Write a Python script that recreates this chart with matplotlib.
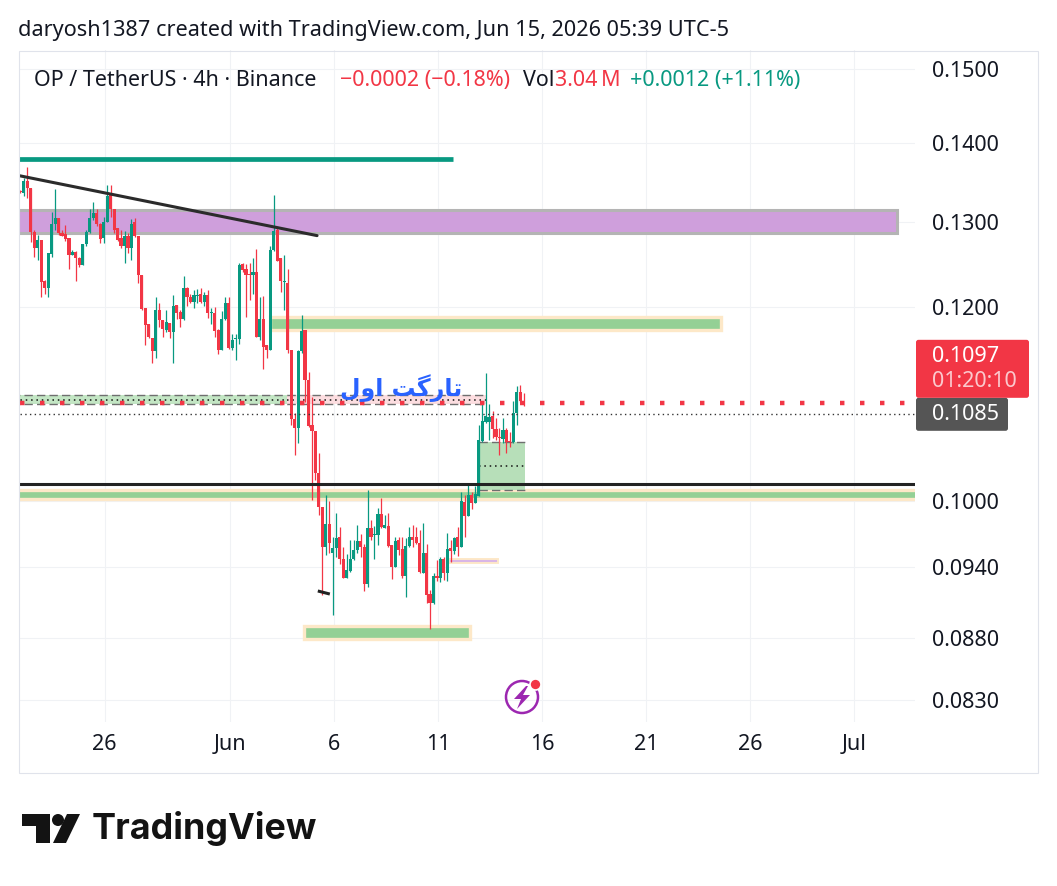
import matplotlib
matplotlib.use("Agg")
import matplotlib.pyplot as plt
import matplotlib.dates as mdates
from matplotlib.patches import Rectangle, Polygon, Circle, FancyBboxPatch
from matplotlib.ticker import NullLocator, NullFormatter
import numpy as np
import pandas as pd

# OP / TetherUS, 4h candles (Binance)
opens = [0.1338, 0.1335, 0.1350, 0.1342, 0.1287, 0.1268, 0.1278, 0.1229, 0.1221, 0.1261,
         0.1297, 0.1304, 0.1286, 0.1285, 0.1280, 0.1260, 0.1263, 0.1256, 0.1248, 0.1273,
         0.1287, 0.1304, 0.1311, 0.1297, 0.1280, 0.1299, 0.1333, 0.1316, 0.1292, 0.1280,
         0.1270, 0.1283, 0.1268, 0.1299, 0.1283, 0.1236, 0.1199, 0.1181, 0.1166, 0.1151,
         0.1196, 0.1185, 0.1174, 0.1182, 0.1172, 0.1202, 0.1194, 0.1186, 0.1221, 0.1211,
         0.1206, 0.1212, 0.1215, 0.1205, 0.1213, 0.1193, 0.1193, 0.1174, 0.1152, 0.1186,
         0.1204, 0.1155, 0.1164, 0.1164, 0.1249, 0.1244, 0.1237, 0.1236, 0.1240, 0.1167,
         0.1186, 0.1158, 0.1152, 0.1266, 0.1290, 0.1256, 0.1228, 0.1227, 0.1152, 0.1080,
         0.1071, 0.1151, 0.1174, 0.1121, 0.1074, 0.1068, 0.1027, 0.0995, 0.0958, 0.0979,
         0.0953, 0.0957, 0.0967, 0.0947, 0.0931, 0.0937, 0.0947, 0.0955, 0.0963, 0.0958,
         0.0925, 0.0975, 0.0969, 0.0969, 0.0988, 0.0975, 0.0977, 0.0960, 0.0940, 0.0964,
         0.0956, 0.0932, 0.0959, 0.0967, 0.0967, 0.0962, 0.0935, 0.0953, 0.0917, 0.0909,
         0.0932, 0.0931, 0.0947, 0.0935, 0.0957, 0.0954, 0.0967, 0.0958, 0.0999, 0.0986,
         0.1006, 0.0998, 0.1005, 0.1058, 0.1077, 0.1077, 0.1083, 0.1070, 0.1062, 0.1060,
         0.1069, 0.1058, 0.1057, 0.1086, 0.1108, 0.1099]
highs = [0.1339, 0.1354, 0.1368, 0.1342, 0.1290, 0.1284, 0.1278, 0.1231, 0.1262, 0.1312,
         0.1340, 0.1304, 0.1290, 0.1296, 0.1280, 0.1266, 0.1265, 0.1258, 0.1273, 0.1290,
         0.1316, 0.1324, 0.1316, 0.1298, 0.1306, 0.1346, 0.1345, 0.1316, 0.1292, 0.1290,
         0.1288, 0.1286, 0.1303, 0.1304, 0.1283, 0.1236, 0.1199, 0.1181, 0.1166, 0.1211,
         0.1204, 0.1185, 0.1196, 0.1182, 0.1213, 0.1202, 0.1197, 0.1235, 0.1223, 0.1215,
         0.1219, 0.1220, 0.1221, 0.1217, 0.1219, 0.1199, 0.1200, 0.1175, 0.1195, 0.1211,
         0.1211, 0.1170, 0.1170, 0.1251, 0.1251, 0.1249, 0.1250, 0.1256, 0.1267, 0.1211,
         0.1212, 0.1158, 0.1270, 0.1333, 0.1294, 0.1256, 0.1260, 0.1243, 0.1152, 0.1086,
         0.1153, 0.1191, 0.1174, 0.1129, 0.1103, 0.1068, 0.1046, 0.0995, 0.1006, 0.1000,
         0.0967, 0.0989, 0.0976, 0.0958, 0.0952, 0.0964, 0.0964, 0.0978, 0.0970, 0.0961,
         0.1011, 0.0983, 0.0977, 0.0994, 0.1003, 0.0987, 0.0989, 0.0960, 0.0967, 0.0967,
         0.0967, 0.0966, 0.0976, 0.0978, 0.0976, 0.0973, 0.0980, 0.0961, 0.0920, 0.0935,
         0.0946, 0.0949, 0.0949, 0.0971, 0.0964, 0.0967, 0.0976, 0.1009, 0.1006, 0.1015,
         0.1009, 0.1014, 0.1074, 0.1096, 0.1128, 0.1096, 0.1088, 0.1081, 0.1071, 0.1081,
         0.1071, 0.1067, 0.1099, 0.1114, 0.1115, 0.1107]
lows = [0.1335, 0.1332, 0.1329, 0.1275, 0.1258, 0.1254, 0.1211, 0.1215, 0.1211, 0.1258,
        0.1290, 0.1284, 0.1282, 0.1276, 0.1244, 0.1260, 0.1230, 0.1246, 0.1248, 0.1270,
        0.1286, 0.1302, 0.1295, 0.1274, 0.1274, 0.1299, 0.1306, 0.1286, 0.1276, 0.1268,
        0.1251, 0.1262, 0.1254, 0.1281, 0.1227, 0.1197, 0.1158, 0.1165, 0.1139, 0.1144,
        0.1178, 0.1167, 0.1172, 0.1165, 0.1138, 0.1187, 0.1178, 0.1185, 0.1201, 0.1204,
        0.1199, 0.1204, 0.1204, 0.1201, 0.1188, 0.1181, 0.1167, 0.1148, 0.1152, 0.1185,
        0.1154, 0.1153, 0.1142, 0.1159, 0.1240, 0.1189, 0.1208, 0.1215, 0.1167, 0.1163,
        0.1132, 0.1144, 0.1152, 0.1265, 0.1253, 0.1217, 0.1197, 0.1149, 0.1074, 0.1044,
        0.1056, 0.1149, 0.1098, 0.1072, 0.1001, 0.1020, 0.0987, 0.0916, 0.0951, 0.0953,
        0.0899, 0.0949, 0.0943, 0.0931, 0.0931, 0.0936, 0.0946, 0.0953, 0.0949, 0.0919,
        0.0923, 0.0964, 0.0947, 0.0960, 0.0975, 0.0975, 0.0958, 0.0930, 0.0940, 0.0951,
        0.0931, 0.0914, 0.0958, 0.0958, 0.0961, 0.0935, 0.0935, 0.0909, 0.0887, 0.0908,
        0.0928, 0.0927, 0.0929, 0.0928, 0.0945, 0.0952, 0.0950, 0.0958, 0.0967, 0.0986,
        0.0993, 0.0998, 0.1005, 0.1057, 0.1076, 0.1059, 0.1061, 0.1059, 0.1044, 0.1056,
        0.1046, 0.1052, 0.1056, 0.1074, 0.1098, 0.1094]
closes = [0.1336, 0.1350, 0.1342, 0.1287, 0.1268, 0.1278, 0.1228, 0.1221, 0.1262, 0.1297,
          0.1304, 0.1286, 0.1283, 0.1279, 0.1260, 0.1263, 0.1256, 0.1248, 0.1273, 0.1287,
          0.1304, 0.1311, 0.1297, 0.1279, 0.1299, 0.1332, 0.1316, 0.1290, 0.1278, 0.1270,
          0.1283, 0.1268, 0.1297, 0.1283, 0.1236, 0.1198, 0.1180, 0.1167, 0.1151, 0.1196,
          0.1185, 0.1175, 0.1183, 0.1172, 0.1201, 0.1193, 0.1186, 0.1221, 0.1211, 0.1206,
          0.1213, 0.1214, 0.1205, 0.1213, 0.1193, 0.1194, 0.1173, 0.1152, 0.1186, 0.1204,
          0.1155, 0.1163, 0.1165, 0.1248, 0.1242, 0.1236, 0.1236, 0.1240, 0.1167, 0.1186,
          0.1156, 0.1152, 0.1266, 0.1289, 0.1253, 0.1229, 0.1229, 0.1152, 0.1080, 0.1071,
          0.1151, 0.1173, 0.1120, 0.1073, 0.1068, 0.1027, 0.0995, 0.0958, 0.0979, 0.0962,
          0.0957, 0.0966, 0.0947, 0.0931, 0.0938, 0.0947, 0.0955, 0.0963, 0.0958, 0.0925,
          0.0975, 0.0967, 0.0970, 0.0988, 0.0976, 0.0978, 0.0959, 0.0940, 0.0963, 0.0955,
          0.0932, 0.0959, 0.0967, 0.0964, 0.0962, 0.0936, 0.0953, 0.0916, 0.0909, 0.0932,
          0.0931, 0.0947, 0.0935, 0.0956, 0.0954, 0.0966, 0.0958, 0.1000, 0.0986, 0.1006,
          0.0998, 0.1007, 0.1059, 0.1078, 0.1083, 0.1082, 0.1070, 0.1062, 0.1061, 0.1069,
          0.1057, 0.1057, 0.1086, 0.1108, 0.1099, 0.1097]
last_bar = "2026-06-15 03:00"

price_ticks = [0.15, 0.14, 0.13, 0.12, 0.10, 0.094, 0.088, 0.083]
date_ticks = ["2026-05-26", "2026-06-01", "2026-06-06", "2026-06-11",
              "2026-06-16", "2026-06-21", "2026-06-26", "2026-07-01"]
date_labels = ["26", "Jun", "6", "11", "16", "21", "26", "Jul"]
x_range = ("2026-05-21 22:35", "2026-07-03 21:45")
y_range = (0.0813, 0.1527)

last_price = 0.1097
countdown = "01:20:10"
marked_price = 0.1085

# drawings: times and prices
teal_line = (("2026-05-20", "2026-06-11 17:25"), 0.1378)
trend_line = (("2026-05-21 22:35", "2026-06-05 04:50"), (0.1357, 0.1283))
purple_box = (("2026-05-20", "2026-07-03 01:00"), (0.1286, 0.1314))
upper_band = (("2026-06-02 22:10", "2026-06-24 14:10"), (0.1174, 0.1189))
zone_green = (("2026-05-20", "2026-06-03 18:15"), (0.1096, 0.1100, 0.1105))
zone_pink = (("2026-06-03 18:15", "2026-06-13 08:40"), (0.1096, 0.1100, 0.1105))
entry_box = (("2026-06-12 23:45", "2026-06-15 04:25"), (0.1011, 0.1034, 0.1057))
black_level = 0.1016
lower_band = (("2026-05-20", "2026-07-05"), (0.1002, 0.1011))
lilac_band = (("2026-06-11 13:25", "2026-06-13 21:20"), (0.0944, 0.0947))
bottom_band = (("2026-06-04 13:40", "2026-06-12 12:45"), (0.0879, 0.0890))
low_mark = (("2026-06-05 07:25", "2026-06-05 17:50"), (0.0917, 0.0919))
label_text = "\ufedd\ufeed\ufe8d \ufe96\ufb94\ufead\ufe8e\ufe97"  # "تارگت اول", shaped glyphs in visual order
label_pos = ("2026-06-09 05:30", 0.1112)

GREEN = "#089981"
RED = "#f23645"
INK = "#131722"
BAND_GREEN = "#94d095"
BEIGE = "#fde8c8"

plt.rcParams["font.family"] = ["Noto Sans", "DejaVu Sans"]

W, H = 1057, 886
fig = plt.figure(figsize=(W / 100, H / 100), dpi=100)
fig.patch.set_facecolor("white")
ax = fig.add_axes([20 / W, 1 - 722 / H, 895 / W, 672 / H])
ov = fig.add_axes([0, 0, 1, 1], zorder=10)
ov.set_xlim(0, W)
ov.set_ylim(H, 0)
ov.axis("off")


def d(s):
    return mdates.date2num(pd.Timestamp(s))


ax.set_yscale("log")
ax.set_xlim(d(x_range[0]), d(x_range[1]))
ax.set_ylim(*y_range)
for s in ax.spines.values():
    s.set_visible(False)

# candles
t = pd.date_range(end=last_bar, periods=len(opens), freq="4h")
x = mdates.date2num(t)
o, hi, lo, c = map(np.array, (opens, highs, lows, closes))
col = np.where(c >= o, GREEN, RED)
ax.vlines(x, lo, hi, colors=col, lw=0.9, zorder=3)
b_lo = np.minimum(o, c)
b_hi = np.maximum(np.maximum(o, c), b_lo * 1.0009)
ax.bar(x, b_hi - b_lo, bottom=b_lo, width=0.15, color=col, lw=0, zorder=3)


def rect(span, prices, face, edge, lw, z):
    x0, x1 = d(span[0]), d(span[1])
    ax.add_patch(Rectangle((x0, prices[0]), x1 - x0, prices[-1] - prices[0],
                           facecolor=face, edgecolor=edge, lw=lw, zorder=z))


rect(purple_box[0], purple_box[1], "#cf9fdc", "#b4b4b4", 2.2, 1)
rect(upper_band[0], upper_band[1], BAND_GREEN, BEIGE, 2.4, 1)
rect(lower_band[0], lower_band[1], BAND_GREEN, BEIGE, 2.4, 1)
rect(bottom_band[0], bottom_band[1], BAND_GREEN, BEIGE, 2.4, 1)
rect(lilac_band[0], lilac_band[1], "#d9b6e6", BEIGE, 1.4, 1)

for (span, (p_lo, p_mid, p_hi)), face in [(zone_green, "#c3e6c4"), (zone_pink, "#fcdde0"),
                                          (entry_box, "#b7dfb9")]:
    x0, x1 = d(span[0]), d(span[1])
    ax.add_patch(Rectangle((x0, p_lo), x1 - x0, p_hi - p_lo, facecolor=face, lw=0, zorder=1))
    ax.hlines([p_lo, p_hi], x0, x1, colors="#6f6f6f", lw=1.0, linestyles=(0, (6, 3)), zorder=1.5)
    ax.hlines(p_mid, x0, x1, colors="#111111", lw=1.1, linestyles=(0, (1, 2.5)), zorder=1.5)

ax.plot([d(v) for v in teal_line[0]], [teal_line[1]] * 2, color=GREEN, lw=3.4,
        solid_capstyle="butt", zorder=4)
ax.plot([d(v) for v in trend_line[0]], trend_line[1], color="#2b2b2b", lw=2.2,
        solid_capstyle="round", zorder=4)
ax.axhline(black_level, color="#232323", lw=2.2, zorder=4)
ax.plot([d(v) for v in low_mark[0]], low_mark[1][::-1], color="#222222", lw=2.2, zorder=4)
ax.axhline(marked_price, color="#333333", lw=1.0, ls=(0, (1, 2.4)), zorder=4)
ax.axhline(last_price, color=RED, lw=3.2, ls=(0, (1, 3.5)), zorder=5)

# axis ticks and grid
ax.set_yticks(price_ticks)
ax.set_yticklabels([f"{p:.4f}" for p in price_ticks])
ax.yaxis.set_minor_locator(NullLocator())
ax.yaxis.set_minor_formatter(NullFormatter())
ax.yaxis.tick_right()
ax.set_xticks([d(v) for v in date_ticks])
ax.set_xticklabels(date_labels)
ax.grid(True, color="#f0f2f5", lw=0.8, zorder=0)
ax.set_axisbelow(True)

r = fig.canvas.get_renderer()


def fit(txt, px):
    w = txt.get_window_extent(renderer=r).width
    txt.set_fontsize(txt.get_fontsize() * px / w)
    return txt.get_fontsize()


probe = ov.text(0, 0, "0.1500", fontsize=12)
fs_tick = fit(probe, 68)
probe.remove()
ax.tick_params(axis="y", length=0, pad=12.2, labelsize=fs_tick, labelcolor=INK)
ax.tick_params(axis="x", length=0, pad=9, labelsize=fs_tick, labelcolor=INK)

# label text on the chart
lbl = ax.text(d(label_pos[0]), label_pos[1], label_text, ha="center", va="center",
              color="#2962ff", fontsize=20, fontweight="bold", family=["DejaVu Sans"], zorder=6)
fit(lbl, 122)

# caption and legend
cap = ov.text(18, 30, "daryosh1387 created with TradingView.com, Jun 15, 2026 05:39 UTC-5",
              va="center", color=INK, fontsize=14)
fit(cap, 710)
h1 = ov.text(34, 80, "OP / TetherUS \u00b7 4h \u00b7 Binance", va="center", color=INK, fontsize=14)
fs_head = fit(h1, 283)
for xpos, s, cl in [(340, "\u22120.0002 (\u22120.18%)", RED), (523, "Vol", INK),
                    (555, "3.04\u2009M", RED), (630, "+0.0012 (+1.11%)", GREEN)]:
    ov.text(xpos, 80, s, va="center", color=cl, fontsize=fs_head)

# frame around the chart
ov.add_patch(Rectangle((18.5, 50.5), 1019, 722, fill=False, edgecolor="#e0e3eb", lw=0.8))

# price labels on the scale
yc = H - ax.transData.transform((0, marked_price))[1]
dark_top = yc - 16.5
ov.add_patch(FancyBboxPatch((916, dark_top), 92, 33, boxstyle="round,pad=0,rounding_size=2.5",
                            facecolor="#555555", lw=0))
ov.add_patch(FancyBboxPatch((916, dark_top - 58), 113, 58, boxstyle="round,pad=0,rounding_size=2.5",
                            facecolor=RED, lw=0))
ov.text(932, yc, f"{marked_price:.4f}", va="center", color="white", fontsize=fs_tick)
ov.text(932, dark_top - 41, f"{last_price:.4f}", va="center", color="white", fontsize=fs_tick)
ov.text(932, dark_top - 16, countdown, va="center", color="#fbc9cd", fontsize=fs_tick)

# lightning badge
ov.add_patch(Circle((522, 697), 16, fill=False, edgecolor="#9c27b0", lw=1.8))
ov.add_patch(Polygon([(526, 686), (514, 699), (521, 699), (517, 709), (530, 695),
                      (523, 695), (528, 686)], closed=True, facecolor="#9c27b0", lw=0))
ov.add_patch(Circle((535.5, 684.5), 5.5, facecolor=RED, edgecolor="white", lw=1.2))

# TradingView logo
ov.add_patch(Polygon([(22, 814), (50, 814), (50, 843), (36, 843), (36, 826), (22, 826)],
                     closed=True, facecolor="#131313", lw=0))
ov.add_patch(Circle((58, 820), 6, facecolor="#131313", lw=0))
ov.add_patch(Polygon([(67, 814), (80, 814), (66, 843), (53, 843)], closed=True,
                     facecolor="#131313", lw=0))
logo = ov.text(92, 829, "TradingView", va="center", color="#131313", fontsize=24,
               fontweight="bold", family=["Inter", "DejaVu Sans"])
fit(logo, 226)

fig.savefig("out.png", dpi=100)
